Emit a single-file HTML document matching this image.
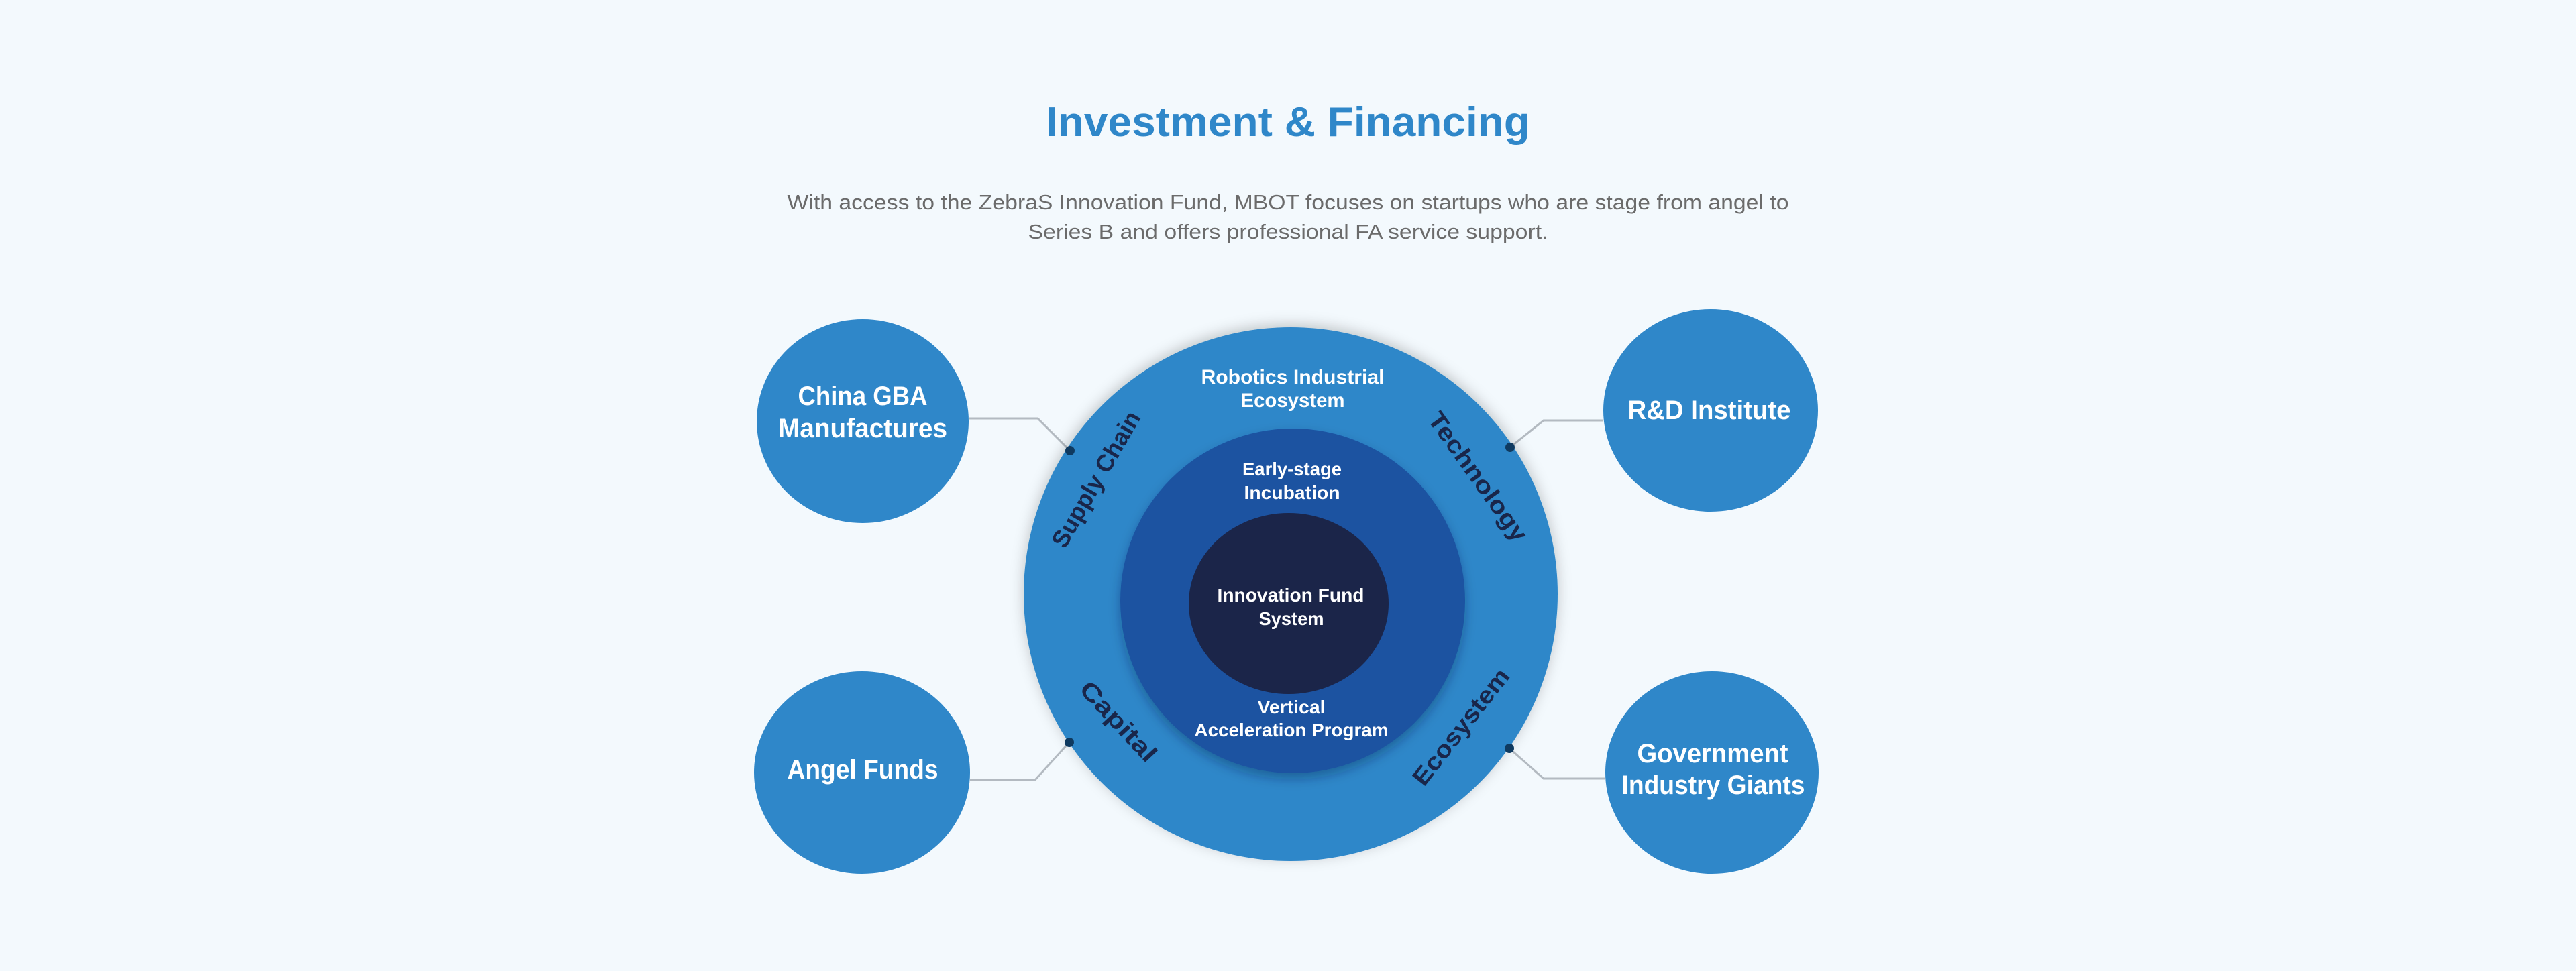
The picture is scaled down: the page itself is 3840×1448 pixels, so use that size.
<!DOCTYPE html>
<html><head><meta charset="utf-8"><style>
html,body{margin:0;padding:0;background:#f3f9fd;}
svg{display:block;}
text{font-family:"Liberation Sans",sans-serif;}
</style></head><body>
<svg width="3840" height="1448" viewBox="0 0 3840 1448" xmlns="http://www.w3.org/2000/svg">
<defs>
<filter id="glow" x="-20%" y="-20%" width="140%" height="140%">
<feGaussianBlur in="SourceAlpha" stdDeviation="10"/>
<feOffset dx="0" dy="-4" result="b"/>
<feFlood flood-color="#000" flood-opacity="0.22"/>
<feComposite in2="b" operator="in"/>
<feMerge><feMergeNode/><feMergeNode in="SourceGraphic"/></feMerge>
</filter>
<filter id="sh2" x="-20%" y="-20%" width="140%" height="140%">
<feGaussianBlur in="SourceAlpha" stdDeviation="8"/>
<feOffset dx="0" dy="8" result="b"/>
<feFlood flood-color="#0a1e45" flood-opacity="0.35"/>
<feComposite in2="b" operator="in"/>
<feMerge><feMergeNode/><feMergeNode in="SourceGraphic"/></feMerge>
</filter>
</defs>
<rect width="3840" height="1448" fill="#f3f9fd"/>

<text x="1920" y="203" text-anchor="middle" font-size="62" font-weight="bold" fill="#2f87c9" textLength="722" lengthAdjust="spacingAndGlyphs">Investment &amp; Financing</text>
<text x="1920" y="312" text-anchor="middle" font-size="31" fill="#6b6b6b" textLength="1493" lengthAdjust="spacingAndGlyphs">With access to the ZebraS Innovation Fund, MBOT focuses on startups who are stage from angel to</text>
<text x="1920" y="356" text-anchor="middle" font-size="31" fill="#6b6b6b" textLength="775" lengthAdjust="spacingAndGlyphs">Series B and offers professional FA service support.</text>

<!-- connectors -->
<g stroke="#b3bac1" stroke-width="3" fill="none">
<polyline points="1444,624 1547,624 1595,672"/>
<polyline points="2390,627 2301,627 2251,667"/>
<polyline points="1446,1163 1543,1163 1594,1107"/>
<polyline points="2393,1161 2301,1161 2250,1116"/>
</g>

<!-- main circles -->
<circle cx="1924" cy="886" r="398" fill="#2f87c9" filter="url(#glow)"/>
<circle cx="1927" cy="896" r="257" fill="#1a52a1" filter="url(#sh2)"/>
<ellipse cx="1921" cy="900" rx="149" ry="135" fill="#1b2549"/>

<g fill="#0f3a60">
<circle cx="1595" cy="672" r="7"/>
<circle cx="2251" cy="667" r="7"/>
<circle cx="1594" cy="1107" r="7"/>
<circle cx="2250" cy="1116" r="7"/>
</g>

<!-- side circles -->
<g fill="#2f87c9">
<ellipse cx="1286" cy="628" rx="158" ry="152"/>
<ellipse cx="2550" cy="612" rx="160" ry="151"/>
<ellipse cx="1285" cy="1152" rx="161" ry="151"/>
<ellipse cx="2552" cy="1152" rx="159" ry="151"/>
</g>

<g fill="#ffffff" font-weight="bold" text-anchor="middle">
<text x="1286" y="604" font-size="40" textLength="193" lengthAdjust="spacingAndGlyphs">China GBA</text>
<text x="1286" y="652" font-size="40" textLength="252" lengthAdjust="spacingAndGlyphs">Manufactures</text>
<text x="2548" y="625" font-size="40" textLength="243" lengthAdjust="spacingAndGlyphs">R&amp;D Institute</text>
<text x="1286" y="1161" font-size="40" textLength="225" lengthAdjust="spacingAndGlyphs">Angel Funds</text>
<text x="2553" y="1137" font-size="40" textLength="225" lengthAdjust="spacingAndGlyphs">Government</text>
<text x="2554" y="1184" font-size="40" textLength="273" lengthAdjust="spacingAndGlyphs">Industry Giants</text>

<text x="1927" y="572" font-size="30" textLength="273" lengthAdjust="spacingAndGlyphs">Robotics Industrial</text>
<text x="1927" y="607" font-size="30" textLength="155" lengthAdjust="spacingAndGlyphs">Ecosystem</text>
<text x="1926" y="709" font-size="28" textLength="148" lengthAdjust="spacingAndGlyphs">Early-stage</text>
<text x="1926" y="744" font-size="28" textLength="143" lengthAdjust="spacingAndGlyphs">Incubation</text>
<text x="1924" y="897" font-size="28" textLength="219" lengthAdjust="spacingAndGlyphs">Innovation Fund</text>
<text x="1925" y="932" font-size="28" textLength="97" lengthAdjust="spacingAndGlyphs">System</text>
<text x="1925" y="1064" font-size="28" textLength="101" lengthAdjust="spacingAndGlyphs">Vertical</text>
<text x="1925" y="1098" font-size="28" textLength="289" lengthAdjust="spacingAndGlyphs">Acceleration Program</text>
</g>

<g fill="#19264a" font-weight="bold" font-size="36" text-anchor="middle">
<text transform="translate(1634,715) rotate(-60)" y="12" textLength="228" lengthAdjust="spacingAndGlyphs">Supply Chain</text>
<text transform="translate(2203,711) rotate(54.5)" y="12" textLength="228" lengthAdjust="spacingAndGlyphs">Technology</text>
<text transform="translate(1667,1076) rotate(47)" y="12" textLength="150" lengthAdjust="spacingAndGlyphs">Capital</text>
<text transform="translate(2178,1084) rotate(-52)" y="12" textLength="210" lengthAdjust="spacingAndGlyphs">Ecosystem</text>
</g>
</svg>
</body></html>
